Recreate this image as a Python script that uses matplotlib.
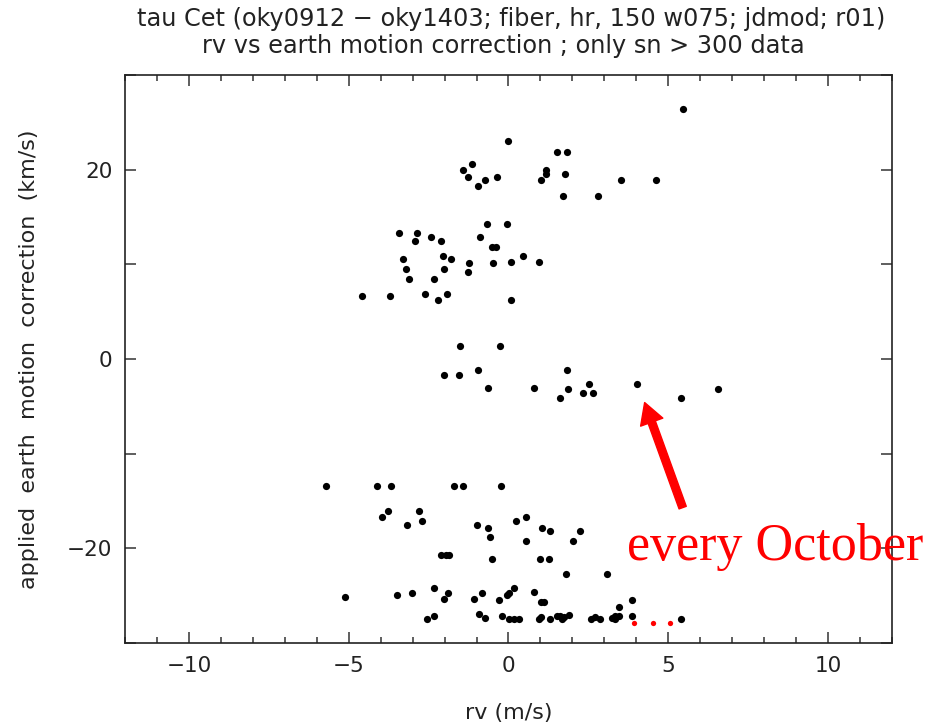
import matplotlib
matplotlib.use('Agg')
import matplotlib.pyplot as plt
from matplotlib.ticker import MultipleLocator

# rv (m/s) and applied earth motion correction (km/s)
rv = [5.46, 0.00, 1.53, 1.84, -1.13, -1.42, -1.27, -0.73, -0.95, -0.35,
      1.16, 1.18, 1.01, 1.77, 3.51, 4.62, 1.69, 2.81,
      -0.68, -0.06, -3.43, -2.85, -2.93, -2.44, -2.11, -0.89, -0.52, -0.39,
      -3.29, -2.04, -1.79, -1.23, -0.49, 0.07, 0.46, 0.96, -3.21, -2.02,
      -1.26, -3.11, -2.33, -4.57, -3.70, -2.61, -1.91, -2.21, 0.07,
      -1.51, -0.27, -2.03, -1.54, -0.94, -0.63, 0.79, 1.82, 1.87, 1.60,
      2.53, 2.32, 2.64, 4.03, 5.40, 6.56,
      -5.71, -4.11, -3.69, -1.72, -1.43, -0.25, -3.78, -3.95, -2.80, -2.71,
      -3.19, -0.99, -0.64, -0.59, 0.24, 0.55, 1.04, 1.29, 0.55, 2.24, 2.03,
      -2.11, -1.95, -1.85, -0.51, 1.00, 1.27, 1.81, 3.09,
      -5.12, -3.50, -3.03, -2.34, -1.88, -2.03, -1.09, -0.82, -0.31,
      -0.04, 0.03, 0.16, 0.79, 1.03, 1.11, 3.85, 3.45,
      -2.54, -2.34, -0.91, -0.75, -0.20, 0.01, 0.17, 0.32, 0.97, 1.03, 1.29,
      1.53, 1.60, 1.67, 1.75, 1.88, 2.57, 2.70, 2.85, 3.25, 3.34, 3.45, 3.32,
      3.87, 5.39]
corr = [26.4, 23.05, 21.86, 21.86, 20.56, 20.0, 19.26, 18.88, 18.3, 19.26,
        20.0, 19.5, 18.9, 19.55, 18.9, 18.88, 17.2, 17.2,
        14.25, 14.25, 13.33, 13.33, 12.46, 12.91, 12.46, 12.91, 11.79, 11.79,
        10.56, 10.87, 10.53, 10.1, 10.1, 10.2, 10.87, 10.2, 9.51, 9.51,
        9.16, 8.46, 8.46, 6.7, 6.7, 6.88, 6.88, 6.18, 6.18,
        1.33, 1.33, -1.68, -1.68, -1.19, -3.02, -3.02, -1.19, -3.19, -4.1,
        -2.67, -3.61, -3.61, -2.67, -4.1, -3.12,
        -13.44, -13.44, -13.44, -13.44, -13.44, -13.44, -16.04, -16.7, -16.04,
        -17.16, -17.58, -17.58, -17.89, -18.84, -17.16, -16.67, -17.89, -18.14,
        -19.19, -18.14, -19.19,
        -20.74, -20.74, -20.74, -21.09, -21.09, -21.09, -22.7, -22.7,
        -25.12, -24.95, -24.77, -24.14, -24.77, -25.33, -25.33, -24.7, -25.5,
        -24.88, -24.7, -24.14, -24.63, -25.68, -25.68, -25.5, -26.2,
        -27.5, -27.1, -26.98, -27.4, -27.1, -27.5, -27.5, -27.5, -27.5, -27.3,
        -27.5, -27.1, -27.1, -27.5, -27.3, -27.0, -27.5, -27.3, -27.5, -27.37,
        -27.1, -27.1, -27.5, -27.1, -27.5]

# red "..." added by hand next to the bottom row
dots_x = [3.93, 4.51, 5.05]
dots_y = [-27.85, -27.85, -27.85]

# arrow pointing at the October point
arrow_tail = (5.45, -15.7)
arrow_head = (4.26, -4.6)

fig = plt.figure(figsize=(9.37, 7.27), dpi=100)
ax = fig.add_axes([125/937, 1 - 643/727, 767/937, 568/727])

ax.plot(rv, corr, 'o', color='black', markersize=5.2, markeredgewidth=0)
ax.plot(dots_x, dots_y, 'o', color='red', markersize=3.8, markeredgewidth=0)

ax.annotate('', xy=arrow_head, xytext=arrow_tail,
            arrowprops=dict(facecolor='red', edgecolor='red', width=5.5,
                            headwidth=17, headlength=15, shrink=0))

ax.set_xlim(-12, 12)
ax.set_ylim(-30, 30)
ax.xaxis.set_major_locator(MultipleLocator(5))
ax.xaxis.set_minor_locator(MultipleLocator(1))
ax.set_yticks([-30, -20, -10, 0, 10, 20, 30])
ax.set_yticklabels(['', '\u221220', '', '0', '', '20', ''])
ax.set_xticks([-10, -5, 0, 5, 10])
ax.set_xticklabels(['\u221210', '\u22125', '0', '5', '10'])

ax.tick_params(which='both', direction='in', top=True, right=True,
               width=1.1, color='#333333', labelsize=15.5, labelcolor='#222222')
ax.tick_params(which='major', length=8, pad=9)
ax.tick_params(which='minor', length=4)
for s in ax.spines.values():
    s.set_linewidth(1.2)
    s.set_color('#222222')

ax.set_xlabel('rv (m/s)', fontsize=16, color='#222222', labelpad=20)
ax.set_ylabel('applied  earth  motion  correction  (km/s)', fontsize=16,
              color='#222222', labelpad=20)

fig.text(0.546, 1 - 19/727, 'tau Cet (oky0912 \u2212 oky1403; fiber, hr, 150 w075; jdmod; r01)',
         ha='center', va='center', fontsize=17.3, color='#222222')
fig.text(0.537, 1 - 46/727, 'rv vs earth motion correction ; only sn > 300 data',
         ha='center', va='center', fontsize=17.3, color='#222222')

fig.text(627/937, 1 - 560/727, 'every October', family='Liberation Serif',
         fontsize=37.5, color='red', ha='left', va='baseline')

fig.savefig('out.png', dpi=100)
